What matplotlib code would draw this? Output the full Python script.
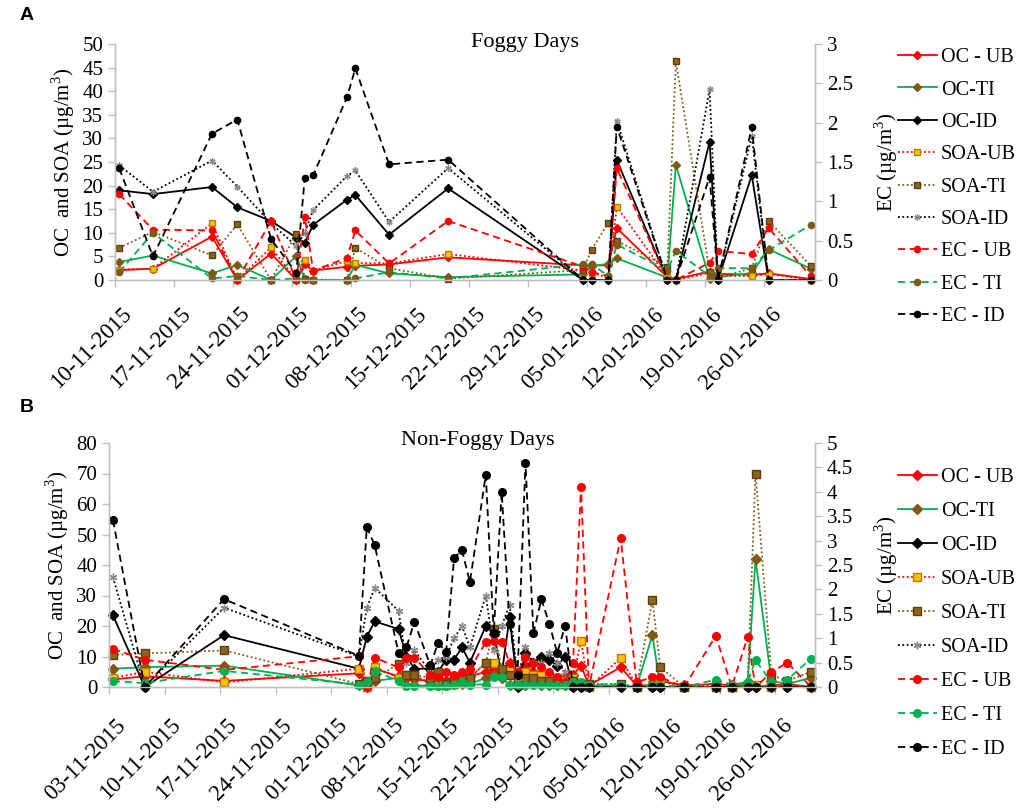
import numpy as np
import pandas as pd
import matplotlib
matplotlib.use('Agg')
import matplotlib.pyplot as plt
import matplotlib.dates as mdates
import matplotlib.transforms as mtransforms
from matplotlib.ticker import FuncFormatter, MultipleLocator

plt.rcParams['font.family'] = ['Liberation Serif', 'DejaVu Serif']
plt.rcParams['mathtext.fontset'] = 'custom'
plt.rcParams['mathtext.rm'] = 'Liberation Serif'

# ---------------- data: foggy days (panel A) ----------------
fog_dates = ['10-11-2015', '14-11-2015', '21-11-2015', '24-11-2015', '28-11-2015',
             '01-12-2015', '02-12-2015', '03-12-2015', '07-12-2015', '08-12-2015',
             '12-12-2015', '19-12-2015', '04-01-2016', '05-01-2016', '07-01-2016',
             '08-01-2016', '14-01-2016', '15-01-2016', '19-01-2016', '20-01-2016',
             '24-01-2016', '26-01-2016', '31-01-2016']
fog_oc_ub = [2.1, 2.4, 9.2, 0.0, 5.6, 0.0, 3.3, 2.0, 2.8, 3.0, 3.3, 4.8,
             3.1, 3.0, 3.2, 11.0, 0.6, 0.2, 1.8, 1.3, 1.1, 1.4, 0.2]
fog_oc_ti = [3.8, 5.2, 1.4, 3.2, 0.0, 5.1, 0.2, 0.0, 0.0, 3.2, 1.4, 0.6,
             1.2, 3.0, 3.4, 4.6, 0.5, 24.4, 0.3, 0.6, 1.5, 6.5, 2.4]
fog_oc_id = [19.0, 18.2, 19.7, 15.4, 12.5, 9.0, 7.9, 11.7, 17.0, 18.0, 9.6, 19.4,
             0.0, 0.0, 0.0, 25.4, 0.0, 0.0, 29.3, 0.0, 22.2, 0.0, 0.0]
fog_soa_ub = [2.2, 2.4, 12.0, 0.0, 6.9, 0.0, 4.2, 2.0, 4.0, 3.6, 3.5, 5.5,
              2.0, 1.5, 0.5, 15.5, 0.6, 0.0, 1.5, 1.0, 0.8, 1.3, 0.0]
fog_soa_ti = [6.8, 10.2, 5.2, 11.8, 0.0, 9.8, 0.3, 0.1, 0.0, 6.8, 2.5, 0.3,
              2.1, 6.4, 12.1, 8.3, 2.8, 46.4, 1.8, 0.5, 2.5, 12.5, 3.0]
fog_soa_id = [24.3, 18.7, 25.3, 19.8, 12.0, 7.2, 10.0, 14.8, 22.0, 23.2, 12.3, 23.7,
              0.0, 0.0, 0.0, 33.7, 0.0, 0.0, 40.4, 0.0, 30.5, 0.0, 0.0]
fog_ec_ub = [1.09, 0.64, 0.63, 0.0, 0.75, 0.0, 0.80, 0.12, 0.28, 0.63, 0.21, 0.75,
             0.17, 0.10, 0.05, 1.42, 0.0, 0.0, 0.22, 0.37, 0.33, 0.66, 0.05]
fog_ec_ti = [0.10, 0.60, 0.02, 0.05, 0.0, 0.02, 0.0, 0.0, 0.0, 0.02, 0.10, 0.02,
             0.20, 0.20, 0.05, 0.45, 0.12, 0.37, 0.05, 0.15, 0.15, 0.38, 0.70]
fog_ec_id = [1.42, 0.30, 1.86, 2.04, 0.52, 0.09, 1.30, 1.33, 2.32, 2.69, 1.47, 1.53,
             0.0, 0.0, 0.0, 1.95, 0.0, 0.0, 1.31, 0.0, 1.94, 0.0, 0.0]

# ---------------- data: non-foggy days (panel B) ----------------
nf_dates = ['03-11-2015', '07-11-2015', '17-11-2015', '04-12-2015', '05-12-2015',
            '06-12-2015', '09-12-2015', '10-12-2015', '11-12-2015', '13-12-2015',
            '14-12-2015', '15-12-2015', '16-12-2015', '17-12-2015', '18-12-2015',
            '20-12-2015', '21-12-2015', '22-12-2015', '23-12-2015', '24-12-2015',
            '25-12-2015', '26-12-2015', '27-12-2015', '28-12-2015', '29-12-2015',
            '30-12-2015', '31-12-2015', '01-01-2016', '02-01-2016', '06-01-2016',
            '08-01-2016', '10-01-2016', '11-01-2016', '14-01-2016', '18-01-2016',
            '20-01-2016', '22-01-2016', '23-01-2016', '25-01-2016', '27-01-2016',
            '30-01-2016']
nf_oc_ub = [2.5, 3.5, 2.0, 4.5, 0.0, 6.0, 3.5, 3.0, 2.5, 2.0, 3.0, 2.0, 3.0, 4.0,
            3.5, 5.0, 6.0, 5.0, 8.0, 4.0, 7.0, 5.0, 4.0, 4.0, 3.0, 3.0, 4.0, 7.0,
            0.5, 6.5, 0.5, 0.5, 2.0, 0.5, 1.0, 0.5, 1.5, 0.0, 0.5, 1.0, 0.0]
nf_oc_ti = [6.0, 6.5, 7.0, 0.5, 1.0, 2.0, 3.0, 0.5, 0.5, 0.5, 0.5, 0.5, 1.0, 1.0,
            1.0, 3.0, 4.0, 3.0, 0.5, 0.5, 0.5, 1.0, 0.5, 0.5, 0.5, 0.5, 0.5, 1.0,
            0.5, 0.5, 0.0, 17.0, 0.0, 0.0, 0.0, 0.0, 1.0, 42.0, 2.0, 1.0, 3.0]
nf_oc_id = [23.5, 0.0, 17.0, 6.0, 16.5, 21.5, 19.0, 10.0, 6.0, 6.0, 5.0, 9.0, 9.0,
            13.0, 8.0, 20.0, 17.5, 4.0, 23.0, 0.0, 11.0, 8.0, 10.0, 9.0, 7.0, 10.0,
            0.0, 0.0, 0.0, 0.0, 0.0, 0.0, 0.0, 0.0, 0.0, 0.0, 0.0, 0.0, 0.0, 0.0, 0.0]
nf_soa_ub = [3.0, 5.0, 1.5, 6.0, 0.0, 6.5, 3.0, 4.0, 4.0, 1.0, 0.5, 0.5, 1.0, 3.0,
             3.0, 8.0, 8.0, 5.0, 6.0, 3.0, 5.0, 4.0, 4.0, 3.0, 3.0, 2.0, 3.0, 15.0,
             0.0, 9.5, 0.5, 0.5, 2.0, 0.0, 0.5, 0.0, 0.5, 0.5, 0.0, 0.5, 0.0]
nf_soa_ti = [10.5, 11.0, 12.0, 1.0, 2.0, 3.0, 7.5, 4.0, 4.0, 3.0, 5.0, 1.0, 2.0,
             3.0, 3.0, 8.0, 19.0, 6.0, 4.0, 2.0, 3.0, 3.0, 2.0, 2.0, 1.0, 1.0, 2.0,
             1.0, 1.0, 1.0, 0.0, 28.5, 6.5, 0.0, 0.0, 0.0, 0.5, 70.0, 4.0, 2.0, 5.0]
nf_soa_id = [36.0, 0.0, 26.0, 10.0, 26.0, 32.5, 25.0, 8.0, 12.0, 5.0, 9.0, 10.0,
             16.0, 20.0, 13.0, 30.0, 12.0, 20.0, 27.0, 3.0, 13.0, 8.0, 8.0, 11.0,
             8.0, 5.0, 0.0, 0.0, 0.0, 0.0, 0.0, 0.0, 0.0, 0.0, 0.0, 0.0, 0.0, 0.0,
             0.0, 0.0, 0.0]
nf_ec_ub = [0.78, 0.56, 0.35, 0.63, 0.0, 0.60, 0.40, 0.60, 0.60, 0.25, 0.20, 0.30,
            0.25, 0.30, 0.37, 0.92, 0.95, 0.92, 0.50, 0.30, 0.62, 0.50, 0.42, 0.30,
            0.20, 0.10, 0.50, 4.10, 0.0, 3.05, 0.10, 0.20, 0.20, 0.0, 1.05, 0.0,
            1.02, 0.0, 0.30, 0.50, 0.0]
nf_ec_ti = [0.12, 0.08, 0.33, 0.05, 0.10, 0.33, 0.12, 0.02, 0.02, 0.02, 0.02, 0.02,
            0.05, 0.10, 0.05, 0.05, 0.20, 0.20, 0.05, 0.05, 0.05, 0.05, 0.05, 0.05,
            0.05, 0.05, 0.10, 0.10, 0.05, 0.05, 0.0, 0.05, 0.05, 0.0, 0.15, 0.05,
            0.10, 0.55, 0.10, 0.15, 0.58]
nf_ec_id = [3.42, 0.0, 1.80, 0.64, 3.28, 2.90, 0.70, 0.82, 1.33, 0.45, 0.90, 0.72,
            2.65, 2.80, 2.15, 4.35, 1.10, 4.00, 1.30, 0.25, 4.60, 1.10, 1.80, 1.30,
            0.70, 1.25, 0.0, 0.0, 0.0, 0.0, 0.0, 0.0, 0.0, 0.0, 0.0, 0.0, 0.0, 0.0,
            0.0, 0.0, 0.0]

labels = ['OC - UB', 'OC-TI', 'OC-ID', 'SOA-UB', 'SOA-TI', 'SOA-ID',
          'EC - UB', 'EC - TI', 'EC - ID']

RED = '#ff0000'
GREEN = '#00b050'
BROWN = '#7f5a16'
GOLD = '#ffc000'
GRAY_AX = '#bfbfbf'
dot = (0, (1, 1.4))
dash = (0, (4, 2.5))


def styles(ec_ti_marker):
    return [
        dict(color=RED, ls='-', marker='D', mfc=RED, mec=RED),
        dict(color=GREEN, ls='-', marker='D', mfc=BROWN, mec=BROWN),
        dict(color='black', ls='-', marker='D', mfc='black', mec='black'),
        dict(color=RED, ls=dot, marker='s', mfc=GOLD, mec='#b08000'),
        dict(color=BROWN, ls=dot, marker='s', mfc='#8c6420', mec='#5e3f0c'),
        dict(color='black', ls=dot, marker=(6, 2, 0), mfc='#8a8a8a', mec='#8a8a8a'),
        dict(color=RED, ls=dash, marker='o', mfc=RED, mec=RED),
        dict(color=GREEN, ls=dash, marker='o', mfc=ec_ti_marker, mec=ec_ti_marker),
        dict(color='black', ls=dash, marker='o', mfc='black', mec='black'),
    ]


def panel(rect, dates, left_series, right_series, ymax, ystep, ec_max, start,
          end, ms, ec_ti_marker, title, title_xy, legend_y, leg_space, xpad):
    ax = fig.add_axes(rect)
    ax2 = ax.twinx()
    x = mdates.date2num(pd.to_datetime(dates, format='%d-%m-%Y') + pd.Timedelta(hours=12))
    st = styles(ec_ti_marker)
    handles = []
    for i, vals in enumerate(left_series):
        h, = ax.plot(x, vals, lw=1.3, ms=ms, clip_on=False, **st[i])
        handles.append(h)
    for j, vals in enumerate(right_series):
        h, = ax2.plot(x, vals, lw=1.3, ms=ms, clip_on=False, **st[6 + j])
        handles.append(h)

    x0 = mdates.date2num(pd.Timestamp(start))
    x1 = mdates.date2num(pd.Timestamp(end))
    ax.set_xlim(x0, x1)
    ticks = mdates.date2num(pd.date_range(start, end, freq='7D'))
    ax.set_xticks(ticks)
    ax.xaxis.set_major_formatter(mdates.DateFormatter('%d-%m-%Y'))

    ax.set_ylim(0, ymax)
    ax.yaxis.set_major_locator(MultipleLocator(ystep))
    ax2.set_ylim(0, ec_max)
    ax2.yaxis.set_major_locator(MultipleLocator(0.5))
    ax2.yaxis.set_major_formatter(FuncFormatter(lambda v, p: '%g' % v))

    for a in (ax, ax2):
        a.spines['top'].set_visible(False)
        for s in ('left', 'right', 'bottom'):
            a.spines[s].set_color(GRAY_AX)
            a.spines[s].set_linewidth(1.0)
        a.tick_params(colors=GRAY_AX, labelcolor='black', length=5, width=1.0,
                      labelsize=15)
    ax.tick_params(axis='x', pad=xpad, labelsize=16.5)
    shift = mtransforms.ScaledTranslation(6 / 100, 0, fig.dpi_scale_trans)
    for lab in ax.get_xticklabels():
        lab.set_rotation(45)
        lab.set_ha('right')
        lab.set_rotation_mode('anchor')
        lab.set_transform(lab.get_transform() + shift)
    ax.set_ylabel('OC  and SOA (\u00b5g/m$^3$)', fontsize=15, labelpad=4)
    ax2.set_ylabel('EC (\u00b5g/m$^3$)', fontsize=15, labelpad=14)

    fig.text(title_xy[0], title_xy[1], title, fontsize=16, ha='center', va='center')
    fig.legend(handles, labels, loc='upper left', bbox_to_anchor=(0.872, legend_y),
               frameon=False, fontsize=14.5, handlelength=1.9, handletextpad=0.2,
               labelspacing=leg_space, borderaxespad=0)
    return ax, ax2


fig = plt.figure(figsize=(10.21, 8.08), dpi=100)

panel([115 / 1021, 1 - 280 / 808, 700 / 1021, 236 / 808], fog_dates,
      [fog_oc_ub, fog_oc_ti, fog_oc_id, fog_soa_ub, fog_soa_ti, fog_soa_id],
      [fog_ec_ub, fog_ec_ti, fog_ec_id], 50, 5, 3,
      '2015-11-10', '2016-02-01', 4.5, BROWN, 'Foggy Days',
      (525 / 1021, 1 - 43 / 808), 1 - 40 / 808, 0.66, 12)

panel([109 / 1021, 1 - 687 / 808, 706 / 1021, 244 / 808], nf_dates,
      [nf_oc_ub, nf_oc_ti, nf_oc_id, nf_soa_ub, nf_soa_ti, nf_soa_id],
      [nf_ec_ub, nf_ec_ti, nf_ec_id], 80, 10, 5,
      '2015-11-03', '2016-01-31', 5.5, GREEN, 'Non-Foggy Days',
      (478 / 1021, 1 - 440 / 808), 1 - 460 / 808, 0.74, 15)

fig.text(20 / 1021, 1 - 15 / 808, 'A', fontsize=14, fontweight='bold',
         family='Liberation Sans', va='center')
fig.text(20 / 1021, 1 - 407 / 808, 'B', fontsize=14, fontweight='bold',
         family='Liberation Sans', va='center')

fig.savefig('out.png', dpi=100)
